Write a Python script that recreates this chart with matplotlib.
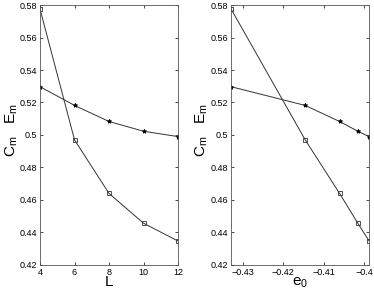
import matplotlib
matplotlib.use('Agg')
import matplotlib.pyplot as plt
import matplotlib.ticker as mticker
import numpy as np

# data
L = [4, 6, 8, 10, 12]
e0 = [-0.4329, -0.4146, -0.4061, -0.4016, -0.3988]
Cm = [0.5297, 0.5182, 0.5083, 0.5023, 0.4990]   # stars
Em = [0.5775, 0.4970, 0.4640, 0.4457, 0.4347]   # squares

yticks = [0.42, 0.44, 0.46, 0.48, 0.5, 0.52, 0.54, 0.56, 0.58]
Lticks = [4, 6, 8, 10, 12]
eticks = [-0.43, -0.42, -0.41, -0.4]

plt.rcParams['font.family'] = ['Liberation Sans', 'DejaVu Sans']
plt.rcParams['mathtext.fontset'] = 'custom'
plt.rcParams['mathtext.rm'] = 'Liberation Sans'
plt.rcParams['mathtext.it'] = 'Liberation Sans'

fig = plt.figure(figsize=(3.74, 2.96), dpi=100)
ax1 = fig.add_axes([0.107, 0.105, 0.369, 0.878])
ax2 = fig.add_axes([0.618, 0.105, 0.369, 0.878])

fmt = mticker.FuncFormatter(lambda v, p: ('%g' % v).replace('-', '\u2212'))

def style(ax, x, xt, xl, ylx):
    ax.plot(x, Cm, '-*', color='#333333', lw=0.7, ms=3.2, mfc='k', mec='k', mew=0.6)
    ax.plot(x, Em, '-s', color='#333333', lw=0.7, ms=3.5, mfc='none', mec='#333333', mew=0.6)
    ax.set_xlim(x[0], x[-1])
    ax.set_ylim(0.42, 0.58)
    ax.set_xticks(xt)
    ax.set_yticks(yticks)
    ax.xaxis.set_major_formatter(fmt)
    ax.yaxis.set_major_formatter(fmt)
    ax.tick_params(direction='in', top=True, right=True, length=2.5, width=0.5,
                   labelsize=6.5, pad=2)
    for s in ax.spines.values():
        s.set_linewidth(0.6)
        s.set_color('#555555')
    ax.set_xlabel(xl, fontsize=11, labelpad=-1)
    ax.set_ylabel('C$_m$   E$_m$', fontsize=11)
    ax.yaxis.set_label_coords(ylx, 0.52)

style(ax1, L, Lticks, 'L', -0.145)
style(ax2, e0, eticks, 'e$_0$', -0.15)

fig.savefig('out.png', dpi=100)
